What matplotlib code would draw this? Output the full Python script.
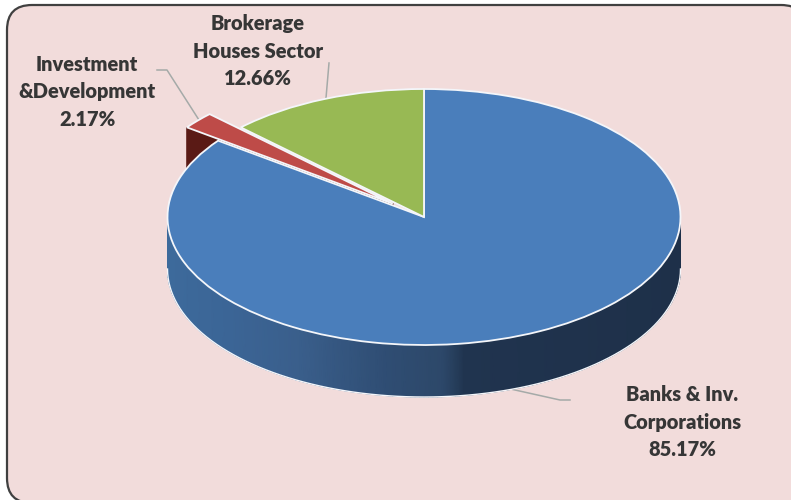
import numpy as np
import matplotlib
matplotlib.use('Agg')
import matplotlib.pyplot as plt
from matplotlib.colors import LinearSegmentedColormap
from matplotlib.patches import FancyBboxPatch

categories = ['Banks & Inv.\nCorporations', 'Investment\n&Development', 'Brokerage\nHouses Sector']
values = [85.17, 2.17, 12.66]
colors = ['#4a7ebb', '#be4b48', '#98b954']
side_colors = ['#3d6a9b', '#5a1a15', '#6f8a3c']
explode = [0, 0.16, 0]

W, H = 791, 500
cx, cy, rx, ry = 424, 217, 256.5, 128
depth = 52 / ry

plt.rcParams['font.family'] = ['Lato', 'DejaVu Sans']
fig = plt.figure(figsize=(W / 100, H / 100), dpi=100, facecolor='white')

# background card, in pixel coordinates (it runs off the right and bottom edges)
bg = fig.add_axes([0, 0, 1, 1])
bg.set_xlim(0, W)
bg.set_ylim(H, 0)
bg.axis('off')
bg.add_patch(FancyBboxPatch((7 + 25, 5 + 25), 799 - 50, 498 - 50,
                            boxstyle='round,pad=25,rounding_size=25',
                            fc='#f2dcdb', ec='#404040', lw=1.6))

# leader lines
bg.plot([329, 326], [63, 98], color='#a5aaa8', lw=1.1)
bg.plot([157, 167, 199], [70, 70, 120], color='#a5aaa8', lw=1.1)
bg.plot([488, 560, 570], [384, 400, 400], color='#a5aaa8', lw=1.1)

# pie axes: one unit is one radius, so the pie comes out as an ellipse
ax = fig.add_axes([0, 0, 1, 1], facecolor='none')
wedges, _ = ax.pie(values, colors=colors, explode=explode, startangle=90,
                   counterclock=False, radius=1,
                   wedgeprops={'edgecolor': '#f4f6fa', 'linewidth': 1.3})
ax.set_aspect('auto')
ax.set_xlim(-cx / rx, (W - cx) / rx)
ax.set_ylim((cy - H) / ry, cy / ry)
ax.axis('off')

# slice angles (clockwise from the top), taken from the values
total = sum(values)
a1 = 90 - 360 * values[0] / total
a2 = a1 - 360 * values[1] / total

# dark cut face of the pulled out slice, behind the blue one
mid = np.radians((a1 + a2) / 2)
ox, oy = explode[1] * np.cos(mid), explode[1] * np.sin(mid)
ex, ey = ox + np.cos(np.radians(a1)), oy + np.sin(np.radians(a1))
ax.fill([ox, ex, ex, ox], [oy, ey, ey - depth, oy - depth], color=side_colors[1], zorder=0.5)

# blue wall with the shading going dark to the right
shade = LinearSegmentedColormap.from_list('shade', [
    (0.0, '#3d6a9b'), (0.12, '#3b6596'), (0.25, '#3a5f8c'), (0.43, '#2f4d73'),
    (0.54, '#2d4869'), (0.58, '#20344f'), (1.0, '#1e3049')])
theta = np.radians(np.linspace(180, 360, 181))
xs = np.cos(theta)
X = np.vstack([xs, xs])
Y = np.vstack([np.sin(theta), np.sin(theta) - depth])
C = np.vstack([(xs + 1) / 2, (xs + 1) / 2])
ax.pcolormesh(X, Y, C, cmap=shade, shading='gouraud', zorder=0.8)
ax.plot(xs, np.sin(theta) - depth, color='#f4f6fa', lw=1.0, zorder=0.9)

# top faces stay above the walls
for w in wedges:
    w.set_zorder(2)
wedges[1].set_zorder(1)

# labels
label_pos = [(682, 422), (87, 92), (258, 51)]
for name, val, (px, py) in zip(categories, values, label_pos):
    fig.text(px / W, 1 - py / H, f'{name}\n{val:.2f}%', ha='center', va='center',
             fontsize=14.4, fontweight='heavy', color='#363636', linespacing=1.52)

fig.savefig('out.png', dpi=100)
